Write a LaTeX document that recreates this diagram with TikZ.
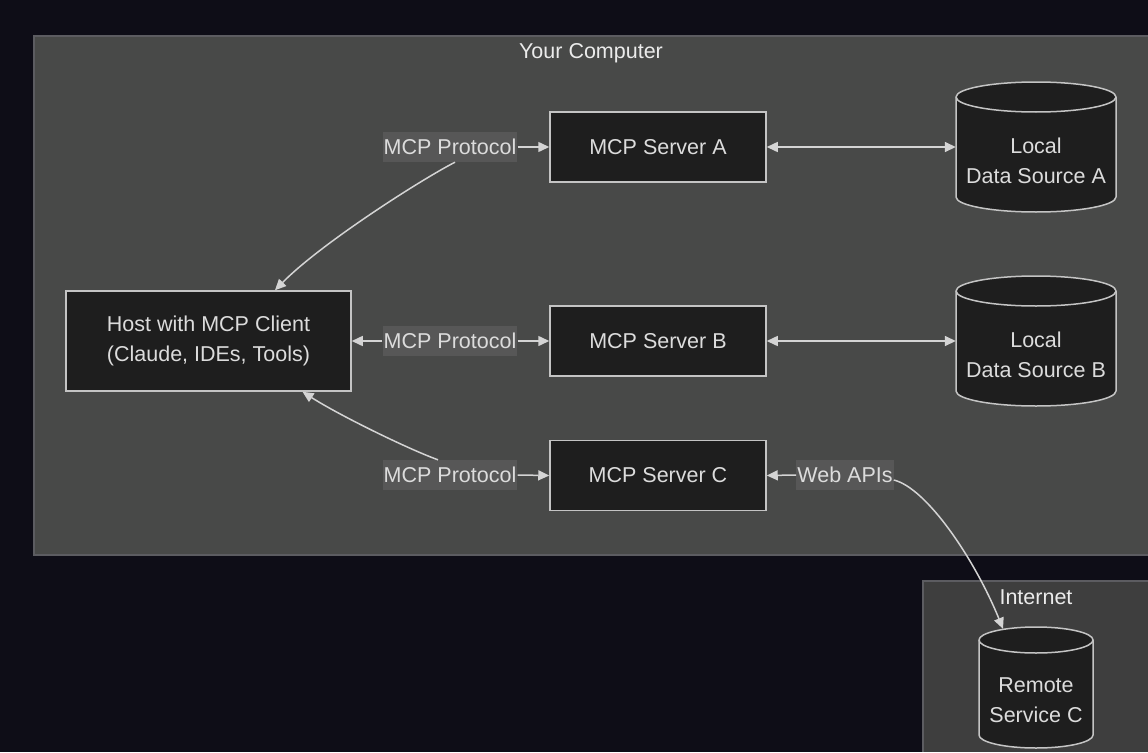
\documentclass[tikz,border=0pt]{standalone}
\usepackage{fontspec}
\setmainfont{Liberation Sans}
\usetikzlibrary{arrows.meta,calc}
\definecolor{bgc}{HTML}{0E0D17}
\definecolor{grpc}{HTML}{484948}
\definecolor{grpline}{HTML}{5C5C61}
\definecolor{inetc}{HTML}{3E3E3E}
\definecolor{boxc}{HTML}{1E1E1E}
\definecolor{boxline}{HTML}{C4C4C4}
\definecolor{txt}{HTML}{DCDCDC}
\definecolor{lblc}{HTML}{575757}
\definecolor{edgec}{HTML}{D4D4D4}
\newcommand{\cylshape}[5]{% cx, cy, rx, half height, ry
  \filldraw[fill=boxc, draw=boxline, line width=1.5pt]
    (#1-#3, #2+#4-#5) -- (#1-#3, #2-#4+#5) arc (180:360:#3 and #5)
    -- (#1+#3, #2+#4-#5) arc (0:180:#3 and #5) -- cycle;
  \draw[draw=boxline, line width=1.5pt] (#1-#3, #2+#4-#5) arc (180:360:#3 and #5);
}
\tikzset{
  every node/.style={font=\fontsize{21.5}{30}\selectfont, text=txt},
  procbox/.style={draw=boxline, fill=boxc, line width=1.5pt, minimum width=216, minimum height=70, inner sep=0, align=center},
  hostbox/.style={procbox, minimum width=285, minimum height=100},
  cylnode/.style={inner sep=0, align=center},
  lbl/.style={fill=lblc, inner xsep=1, inner ysep=0, minimum height=30},
  grouptitle/.style={text=white!92!black},
  edge/.style={draw=edgec, line width=1.5pt},
  tip/.tip={Triangle[length=11pt,width=10pt]}
}
\begin{document}
\begin{tikzpicture}[x=1pt,y=1pt]
\useasboundingbox (0,0) rectangle (1148,-752);
\fill[bgc] (0,0) rectangle (1148,-752);
% groups
\fill[grpc] (34,-36) rectangle (1148,-555);
\draw[grpline, line width=1.5pt] (1148,-36) -- (34,-36) -- (34,-555) -- (1148,-555);
\fill[inetc] (923,-581) rectangle (1148,-752);
\draw[grpline, line width=1.5pt] (1148,-581) -- (923,-581) -- (923,-752);
\node[grouptitle] (tcomp) at (591,-53) {Your Computer};
\node[grouptitle] (tinet) at (1036,-597) {Internet};
% process nodes
\node[hostbox] (host) at (208.5,-341) {Host with MCP Client\\(Claude, IDEs, Tools)};
\node[procbox] (srvA) at (658,-147) {MCP Server A};
\node[procbox] (srvB) at (658,-341) {MCP Server B};
\node[procbox] (srvC) at (658,-475.5) {MCP Server C};
% cylinders
\cylshape{1036}{-147}{80}{65}{15}
\cylshape{1036}{-341}{80}{65}{15}
\cylshape{1036}{-687.5}{57}{60.5}{13}
\node[cylnode, minimum width=160, minimum height=130] (dsA) at (1036,-147) {};
\node[cylnode, minimum width=160, minimum height=130] (dsB) at (1036,-341) {};
\node[cylnode, minimum width=114, minimum height=121] (rs) at (1036,-687.5) {};
\node[cylnode] (dsAt) at ($(dsA.center)+(0,-14)$) {Local\\Data Source A};
\node[cylnode] (dsBt) at ($(dsB.center)+(0,-14)$) {Local\\Data Source B};
\node[cylnode] (rst) at ($(rs.center)+(0,-13)$) {Remote\\Service C};
% edge labels
\node[lbl] (lblA) at (450,-147) {MCP Protocol};
\node[lbl] (lblB) at (450,-341) {MCP Protocol};
\node[lbl] (lblC) at (450,-475) {MCP Protocol};
\node[lbl] (webl) at (845,-475) {Web APIs};
% connectors
\draw[edge, -{tip}] (lblA.east) -- (srvA.west);
\draw[edge, -{tip}] ($(lblA.south)+(5,0)$) .. controls +(-35,-18) and +(45,46) .. ($(host.north)+(66.5,0)$);
\draw[edge, -{tip}] (lblB.west) -- (host.east);
\draw[edge, -{tip}] (lblB.east) -- (srvB.west);
\draw[edge, -{tip}] (lblC.east) -- (srvC.west);
\draw[edge, -{tip}] ($(lblC.north)+(-12,0)$) .. controls +(-28,10) and +(37.5,-24) .. ($(host.south)+(94,0)$);
\draw[edge, {tip}-{tip}] (srvA.east) -- (srvA.east -| dsA.west);
\draw[edge, {tip}-{tip}] (srvB.east) -- (srvB.east -| dsB.west);
\draw[edge, -{tip}] (webl.west) -- (srvC.east);
\draw[edge, -{tip}] ($(webl.east)+(0,-5)$) .. controls +(33,-8) and +(-28,69) .. ($(rs.north)+(-33,-2)$);
\end{tikzpicture}
\end{document}
